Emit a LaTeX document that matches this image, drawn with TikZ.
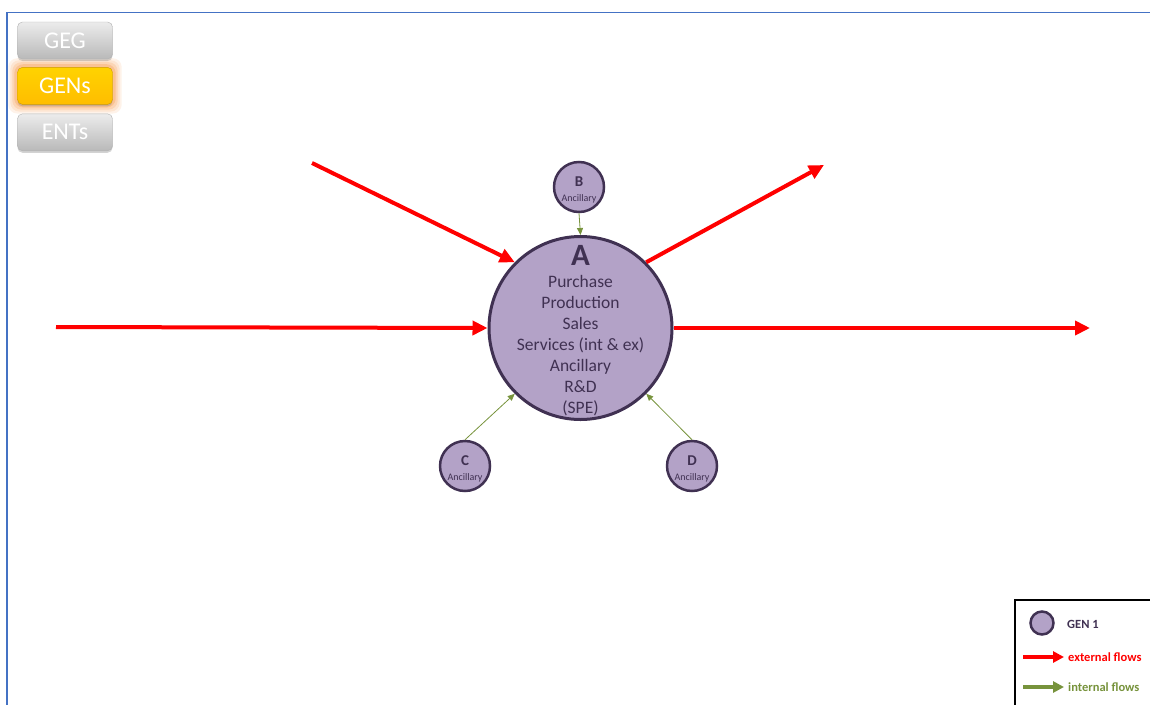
\documentclass[tikz,border=0pt]{standalone}
\usepackage{fontspec}
\setmainfont{Carlito}
\usetikzlibrary{positioning, arrows.meta, backgrounds, shadows}
\definecolor{genfill}{HTML}{B3A2C7}
\definecolor{genline}{HTML}{403152}
\definecolor{extred}{HTML}{FF0000}
\definecolor{intgreen}{HTML}{77933C}
\definecolor{frameblue}{HTML}{4472C4}
\definecolor{btngold}{HTML}{FFC000}
\definecolor{btnglow}{HTML}{F79646}

\begin{document}
\begin{tikzpicture}[
  x=1pt, y=-1pt,
  gen/.style      = {draw=genline, fill=genfill, circle, line width=3pt, inner sep=0pt, minimum size=183pt},
  anc/.style      = {draw=genline, fill=genfill, circle, line width=2.5pt, inner sep=0pt, minimum size=50pt},
  anctitle/.style = {text=genline, inner sep=0pt, font=\fontsize{15}{15}\selectfont\bfseries},
  ancsub/.style   = {text=genline, inner sep=0pt, font=\fontsize{10}{10}\selectfont},
  button/.style   = {draw=gray!60, rounded corners=5pt, minimum width=95pt, minimum height=37pt,
                     inner sep=0pt, text=white, font=\fontsize{24}{24}\selectfont,
                     top color=gray!15, bottom color=gray!55,
                     drop shadow={shadow xshift=0pt, shadow yshift=-2pt, opacity=0.35}},
  ext/.style      = {draw=extred, line width=4pt, -{Triangle[length=15pt, width=14pt]}},
  int/.style      = {draw=intgreen, line width=0.8pt, -{Triangle[length=7pt, width=6pt]}},
  legtext/.style  = {anchor=west, inner sep=0pt, font=\fontsize{12.5}{12.5}\selectfont\bfseries},
]
  \useasboundingbox (0,0) rectangle (1150,704);
  \clip (0,0) rectangle (1150,704);
  \draw[frameblue, line width=1.5pt] (7,12.5) rectangle (1170,720);

  % menu buttons
  \node[button]                                   (geg)  at (65,40.5) {GEG};
  \node[button, below=8pt of geg, draw=btngold!80!black,
        top color=btngold!70!yellow, bottom color=btngold!95!orange] (gens) {GENs};
  \node[button, below=9pt of gens]                (ents) {ENTs};
  \begin{pgfonlayer}{background}
    \foreach \g/\o in {9/0.12, 7/0.15, 5/0.2, 3/0.3}
      \fill[btnglow, opacity=\o, rounded corners=9pt]
        ([xshift=-\g pt, yshift=-\g pt]gens.south west) rectangle ([xshift=\g pt, yshift=\g pt]gens.north east);
  \end{pgfonlayer}

  % main GEN
  \node[gen] (A) at (580.5,328) {};
  \node[text=genline, inner sep=0pt, font=\fontsize{31}{31}\selectfont\bfseries] (A-title) at (580.5,255) {A};
  \node[text=genline, inner sep=0pt, align=center, font=\fontsize{17.5}{21}\selectfont] (A-text) at (580.5,346)
    {Purchase\\Production\\Sales\\Services (int \& ex)\\Ancillary\\R\&D\\(SPE)};

  % ancillary GENs
  \foreach \n/\x/\y in {B/579/187, C/465/466, D/692/466} {
    \node[anc] (\n) at (\x,\y) {};
    \node[anctitle] (\n-title) at ([yshift=5pt]\n.center) {\n};
    \node[ancsub]   (\n-sub)   at ([yshift=-12pt]\n.center) {Ancillary};
  }

  % internal flows
  \draw[int] (B.south) -- (A.north);
  \draw[int] (C.north) -- (A.225);
  \draw[int] (D.north) -- (A.315);

  % external flows
  \coordinate (in1)  at (312,163);
  \coordinate (in2)  at (56,327);
  \coordinate (out1) at (824,165);
  \coordinate (out2) at (1090,328);
  \draw[ext] (in1) -- (A.135);
  \draw[ext] (in2) -- (A.west);
  \draw[ext] (A.45) -- (out1);
  \draw[ext] (A.east) -- (out2);

  % legend
  \draw[black, line width=1.5pt, fill=white] (1015,600) rectangle (1170,720);
  \node[draw=genline, fill=genfill, circle, line width=2.5pt, inner sep=0pt, minimum size=23pt] (leg-gen) at (1042,623) {};
  \node[legtext, text=genline] (leg-gen-t) at (1067,624) {GEN 1};
  \coordinate (leg-ext0) at (1023,657);
  \coordinate (leg-ext1) at (1064,657);
  \coordinate (leg-int0) at (1023,687);
  \coordinate (leg-int1) at (1064,687);
  \draw[draw=extred, line width=4pt, -{Triangle[length=11pt, width=11pt]}] (leg-ext0) -- (leg-ext1);
  \draw[draw=intgreen, line width=4pt, -{Triangle[length=11pt, width=11pt]}] (leg-int0) -- (leg-int1);
  \node[legtext, text=extred]   (leg-ext-t) at (1068,657) {external flows};
  \node[legtext, text=intgreen] (leg-int-t) at (1068,687) {internal flows};
\end{tikzpicture}
\end{document}
